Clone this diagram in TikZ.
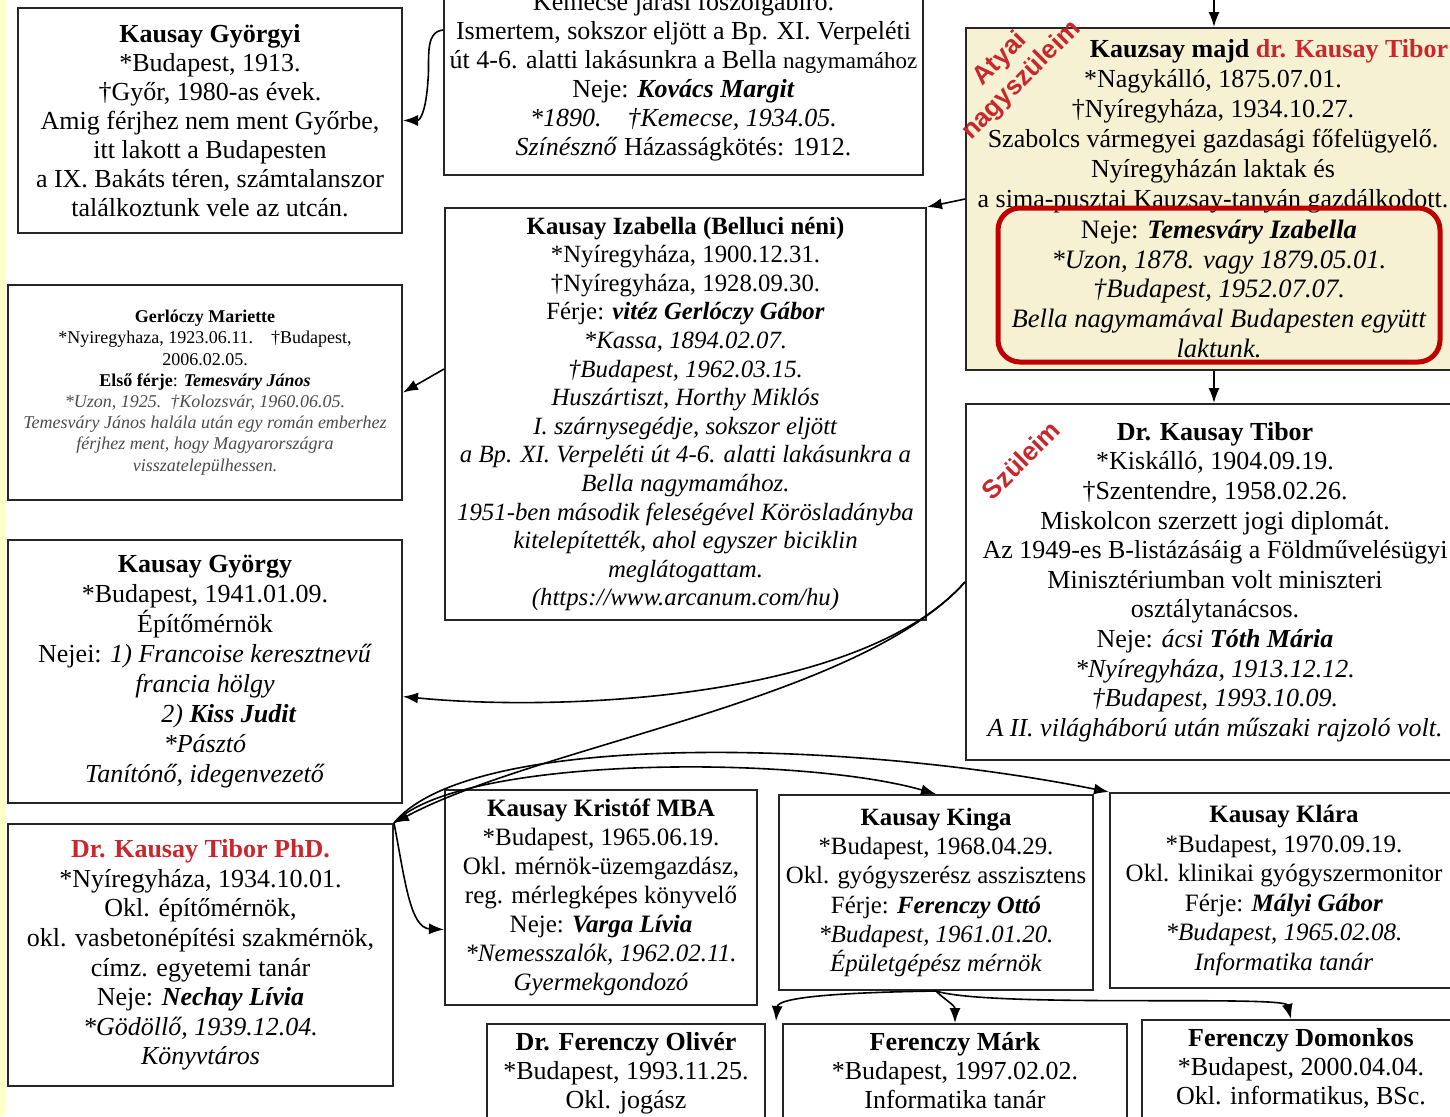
\documentclass[tikz,border=0pt]{standalone}
\usepackage{fontspec}
\setmainfont{Liberation Serif}
\newfontfamily\lsans{Liberation Sans}
\usetikzlibrary{arrows.meta,calc}
\definecolor{tred}{RGB}{200,40,45}
\definecolor{boxred}{RGB}{192,0,0}
\definecolor{gpfill}{RGB}{246,241,210}
\definecolor{stripcol}{RGB}{255,255,200}
\newcommand\fs[2]{\fontsize{#1}{#2}\selectfont}
\tikzset{
  pbox/.style={draw=black!85, line width=1pt, fill=white, align=center, inner sep=0pt},
  sz/.style 2 args={minimum width=#1*0.5pt, minimum height=#2*0.5pt},
  arr/.style={-{Latex[length=7.5pt,width=5.5pt]}, line width=0.8pt, black},
  lbl/.style={text=tred, font=\lsans\bfseries\fs{13}{15}, rotate=45, align=center, inner sep=0pt},
}
\begin{document}
\begin{tikzpicture}[x=0.5pt,y=-0.5pt]
\useasboundingbox (0,0) rectangle (1450,1116);
\clip (0,0) rectangle (1450,1116);
\fill[white] (0,0) rectangle (1450,1116);
\fill[stripcol] (0,0) rectangle (6,1116);

% boxes
\node[pbox, sz={384}{225}, font=\fs{13}{14.5}] (gyorgyi) at (210,120.5)
 {\textbf{Kausay Györgyi}\\ *Budapest, 1913.\\ †Győr, 1980-as évek.\\ Amig férjhez nem ment Győrbe,\\ itt lakott a Budapesten\\ a IX. Bakáts téren, számtalanszor\\ találkoztunk vele az utcán.};

\node[pbox, font=\fs{13}{14.5}, minimum width=479*0.5pt, inner ysep=7pt, anchor=south] (topmid) at (683.5,176)
 {Kemecse járási főszolgabíró.\\ Ismertem, sokszor eljött a Bp. XI. Verpeléti\\ út 4-6. alatti lakásunkra a Bella {\fs{11.5}{14.5}nagymamához}\\ Neje: \textbf{\textit{Kovács Margit}}\\ \textit{*1890.\quad †Kemecse, 1934.05.}\\ \textit{Színésznő} Házasságkötés: 1912.};

\node[pbox, fill=gpfill, sz={496}{342}] (gp) at (1214,199) {};
\node[align=center, font=\fs{13}{15}, anchor=north, inner sep=0pt] (gptext) at (1213,39)
 {\hspace*{56pt}\textbf{Kauzsay majd \textcolor{tred}{dr. Kausay Tibor}}\\ *Nagykálló, 1875.07.01.\\ †Nyíregyháza, 1934.10.27.\\ Szabolcs vármegyei gazdasági főfelügyelő.\\ Nyíregyházán laktak és\\ a sima-pusztai Kauzsay-tanyán gazdálkodott.};
\node[draw=boxred, line width=2.5pt, rounded corners=11pt, sz={442}{154}, align=center, font=\fs{13.3}{14.8}, inner sep=0pt] (gpwife) at (1219,285)
 {\rule{0pt}{13pt}Neje: \textbf{\textit{Temesváry Izabella}}\\ \textit{*Uzon, 1878. vagy 1879.05.01.}\\ \textit{†Budapest, 1952.07.07.}\\ \textit{Bella nagymamával Budapesten együtt}\\ \textit{laktunk.}};
\node[lbl] (lblgp) at (1011,70) {Atyai\\ nagyszüleim};

\node[pbox, sz={394}{215}, font=\fs{9}{10.6}] (ger) at (205,392.5)
 {\textbf{Gerlóczy Mariette}\\ *Nyiregyhaza, 1923.06.11.\quad †Budapest,\\ 2006.02.05.\\ \textbf{Első férje}: \textbf{\textit{Temesváry János}}\\ \textcolor{black!70}{\textit{*Uzon, 1925.\enspace †Kolozsvár, 1960.06.05.}}\\ \textcolor{black!70}{\textit{Temesváry János halála után egy román emberhez}}\\ \textcolor{black!70}{\textit{férjhez ment, hogy Magyarországra}}\\ \textcolor{black!70}{\textit{visszatelepülhessen.}}};

\node[pbox, sz={481}{412}, font=\fs{12.4}{14.3}] (iza) at (685.5,414)
 {\textbf{Kausay Izabella (Belluci néni)}\\ *Nyíregyháza, 1900.12.31.\\ †Nyíregyháza, 1928.09.30.\\ Férje: \textbf{\textit{vitéz Gerlóczy Gábor}}\\ \textit{*Kassa, 1894.02.07.}\\ \textit{†Budapest, 1962.03.15.}\\ \textit{Huszártiszt, Horthy Miklós}\\ \textit{I. szárnysegédje, sokszor eljött}\\ \textit{a Bp. XI. Verpeléti út 4-6. alatti lakásunkra a}\\ \textit{Bella nagymamához.}\\ \textit{1951-ben második feleségével Körösladányba}\\ \textit{kitelepítették, ahol egyszer biciklin}\\ \textit{meglátogattam.}\\ \textit{(https://www.arcanum.com/hu)}};

\node[pbox, sz={498}{356}, font=\fs{13}{14.8}] (tib) at (1215,582)
 {\textbf{Dr. Kausay Tibor}\\ *Kiskálló, 1904.09.19.\\ †Szentendre, 1958.02.26.\\ Miskolcon szerzett jogi diplomát.\\ Az 1949-es B-listázásáig a Földművelésügyi\\ Minisztériumban volt miniszteri\\ osztálytanácsos.\\ Neje: \textit{ácsi} \textbf{\textit{Tóth Mária}}\\ \textit{*Nyíregyháza, 1913.12.12.}\\ \textit{†Budapest, 1993.10.09.}\\ \textit{A II. világháború után műszaki rajzoló volt.}};
\node[lbl] (lblt) at (1021,460) {Szüleim};

\node[pbox, sz={394}{263}, font=\fs{13}{15}] (gyo) at (205,671.5)
 {\textbf{Kausay György}\\ *Budapest, 1941.01.09.\\ Építőmérnök\\ Nejei: \textit{1) Francoise keresztnevű}\\ \textit{francia hölgy}\\ \hspace*{24pt}\textit{2)} \textbf{\textit{Kiss Judit}}\\ \textit{*Pásztó}\\ \textit{Tanítónő, idegenvezető}};

\node[pbox, sz={385}{262}, font=\fs{13}{14.8}] (phd) at (200.5,955)
 {\textbf{\textcolor{tred}{Dr. Kausay Tibor PhD.}}\\ *Nyíregyháza, 1934.10.01.\\ Okl. építőmérnök,\\ okl. vasbetonépítési szakmérnök,\\ címz. egyetemi tanár\\ Neje: \textbf{\textit{Nechay Lívia}}\\ \textit{*Gödöllő, 1939.12.04.}\\ \textit{Könyvtáros}};

\node[pbox, sz={312}{215}, font=\fs{12.5}{14.5}] (kri) at (601,897.5)
 {\textbf{Kausay Kristóf MBA}\\ *Budapest, 1965.06.19.\\ Okl. mérnök-üzemgazdász,\\ reg. mérlegképes könyvelő\\ Neje: \textbf{\textit{Varga Lívia}}\\ \textit{*Nemesszalók, 1962.02.11.}\\ \textit{Gyermekgondozó}};

\node[pbox, sz={314}{195}, font=\fs{12.4}{14.6}] (kin) at (936,892.5)
 {\textbf{Kausay Kinga}\\ *Budapest, 1968.04.29.\\ Okl. gyógyszerész asszisztens\\ Férje: \textbf{\textit{Ferenczy Ottó}}\\ \textit{*Budapest, 1961.01.20.}\\ \textit{Épületgépész mérnök}};

\node[pbox, sz={348}{195}, font=\fs{12.5}{14.8}] (kla) at (1284,890.5)
 {\textbf{Kausay Klára}\\ *Budapest, 1970.09.19.\\ Okl. klinikai gyógyszermonitor\\ Férje: \textbf{\textit{Mályi Gábor}}\\ \textit{*Budapest, 1965.02.08.}\\ \textit{Informatika tanár}};

\node[pbox, sz={278}{150}, font=\fs{13}{14.3}] (oli) at (626,1099)
 {\textbf{Dr. Ferenczy Olivér}\\ *Budapest, 1993.11.25.\\ Okl. jogász\\ ~\\ ~};
\node[pbox, sz={344}{150}, font=\fs{13}{14.3}] (mar) at (955,1099)
 {\textbf{Ferenczy Márk}\\ *Budapest, 1997.02.02.\\ Informatika tanár\\ ~\\ ~};
\node[pbox, sz={318}{150}, font=\fs{13}{14.3}] (dom) at (1301,1095)
 {\textbf{Ferenczy Domonkos}\\ *Budapest, 2000.04.04.\\ Okl. informatikus, BSc.\\ ~\\ ~};

% connectors
\coordinate (topin) at (1214,0);
\draw[arr] (topin) -- (gp.north);
\draw[arr] (gp.south) -- (gp.south |- tib.north);
\draw[arr] ($(gp.north west)+(0,172)$) -- (iza.north east);
\draw[arr] ($(topmid.south west)+(0,-146)$) .. controls (424,32) and (430,60) .. (428,80) .. controls (426,112) and (420,120.5) .. (gyorgyi.east);
\draw[arr] ($(iza.north west)+(0,162)$) -- (ger.east);
\draw[arr] (tib.west) .. controls (860,700) and (560,712) .. ($(gyo.east)+(0,25)$);
\draw[arr] (tib.west) .. controls (860,700) and (540,745) .. (phd.north east);
\draw[arr] (phd.north east) .. controls (405,880) and (410,928) .. ($(kri.west)+(0,32)$);
\draw[arr] (phd.north east) .. controls (460,755) and (800,755) .. (kin.north);
\draw[arr] (phd.north east) .. controls (470,730) and (850,740) .. (kla.north west);
\draw[arr] (kin.south) .. controls (870,992) and (778,995) .. ($(oli.north east)+(10,-2)$);
\draw[arr] (kin.south) .. controls (945,1000) and (955,1005) .. (mar.north);
\draw[arr] (kin.south) .. controls (990,1008) and (1285,995) .. ($(dom.north)+(-10,0)$);
\end{tikzpicture}
\end{document}
